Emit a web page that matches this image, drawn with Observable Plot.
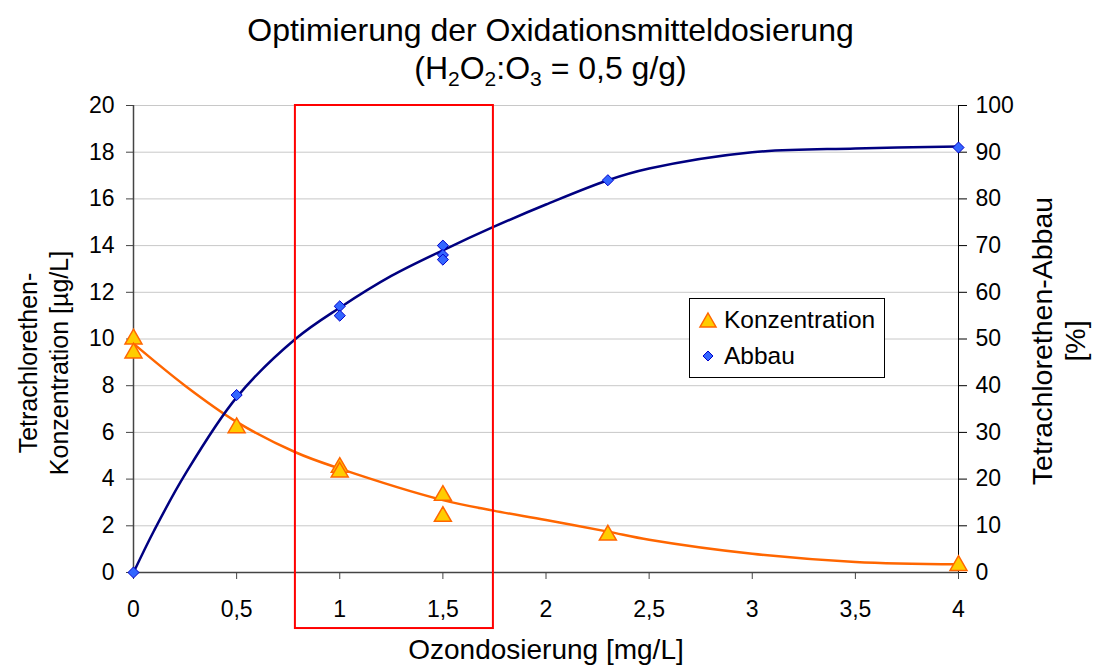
<!DOCTYPE html>
<html>
<head>
<meta charset="utf-8">
<script src="https://cdn.jsdelivr.net/npm/d3@7"></script>
<script src="https://cdn.jsdelivr.net/npm/@observablehq/plot@0.6"></script>
<style>
  html, body { margin: 0; padding: 0; background: #fff; }
  body { width: 1095px; height: 668px; position: relative; overflow: hidden; font-family: "Liberation Sans", Arial, sans-serif; color: #000; }
  .t { position: absolute; left: 0; width: 1101px; text-align: center; font-size: 32px; line-height: 36px; }
  #chart { position: absolute; left: 0; top: 90px; }
  .lab { position: absolute; font-size: 25px; white-space: nowrap; text-align: center; line-height: 31px; }
  #legend { position: absolute; left: 689px; top: 298px; width: 194px; height: 78px; border: 1px solid #000; background: #fff; font-size: 24.5px; }
  #legend .row { position: absolute; left: 8px; display: flex; align-items: center; }
  #legend svg { margin-right: 6px; }
</style>
</head>
<body>
<div class="t" style="top:12px;">Optimierung der Oxidationsmitteldosierung</div>
<div class="t" style="top:50px;">(H<sub style="font-size:21px;">2</sub>O<sub style="font-size:21px;">2</sub>:O<sub style="font-size:21px;">3</sub> = 0,5 g/g)</div>
<div id="chart"></div>
<div class="lab" style="left:44px; top:363px; transform: translate(-50%,-50%) rotate(-90deg);">Tetrachlorethen-<br>Konzentration [µg/L]</div>
<div class="lab" style="left:1059px; top:341px; font-size:28.5px; line-height:33px; transform: translate(-50%,-50%) rotate(-90deg);">Tetrachlorethen-Abbau<br>[%]</div>
<div class="lab" style="left:546px; top:650px; font-size:28px; line-height:30px; transform: translate(-50%,-50%);">Ozondosierung [mg/L]</div>
<div id="legend">
  <div class="row" style="top:7px;"><svg width="20" height="22"><polygon points="10,4 18,18 2,18" fill="#FFCC00" stroke="#FF6600" stroke-width="1.5"/></svg>Konzentration</div>
  <div class="row" style="top:43px;"><svg width="20" height="22"><polygon points="10,6 15,11 10,16 5,11" fill="#3366FF" stroke="#0000CC" stroke-width="1"/></svg>Abbau</div>
</div>
<script>
// Measured points
const concX = [0, 0, 0.5, 1, 1, 1.5, 1.5, 2.3, 4];
const concY = [10.0, 9.4, 6.2, 4.5, 4.3, 3.3, 2.4, 1.6, 0.3];
const abbauX = [0, 0.5, 1, 1, 1.5, 1.5, 1.5, 2.3, 4];
const abbauY = [0, 38, 57, 55, 70, 68, 67, 84, 91];
// Trend curves
const concTrendX = [0, 0.25, 0.5, 0.785, 1, 1.5, 1.745, 2, 2.3, 2.5, 3, 3.5, 4];
const concTrendY = [9.8, 8.0, 6.45, 5.15, 4.45, 3.1, 2.65, 2.25, 1.75, 1.4, 0.8, 0.45, 0.35];
const abbauTrendX = [0, 0.1, 0.25, 0.5, 0.785, 1, 1.25, 1.5, 1.745, 2, 2.3, 2.5, 3, 3.5, 4];
const abbauTrendY = [0, 9, 21, 37.5, 50, 56.7, 63.5, 69, 74, 78.8, 84, 86.5, 90, 90.8, 91.2];
// Axis ticks
const xTicks = [0, 0.5, 1, 1.5, 2, 2.5, 3, 3.5, 4];
const leftTicks = [0, 2, 4, 6, 8, 10, 12, 14, 16, 18, 20];
const rightFactor = 5; // 100 % <-> 20 µg/L
// Highlight box (x range, y range in left-axis units)
const boxX = [0.785, 1.745];
const boxY = [-2.4, 20];

const conc = concX.map((x, i) => ({x, y: concY[i]}));
const abbau = abbauX.map((x, i) => ({x, y: abbauY[i] / rightFactor}));
const concTrend = concTrendX.map((x, i) => ({x, y: concTrendY[i]}));
const abbauTrend = abbauTrendX.map((x, i) => ({x, y: abbauTrendY[i] / rightFactor}));

const fmt = d => String(d).replace(".", ",");

const chart = Plot.plot({
  width: 1095,
  height: 578,
  marginLeft: 133,
  marginRight: 137,
  marginTop: 15,
  marginBottom: 96,
  style: {fontFamily: "'Liberation Sans', Arial, sans-serif", fontSize: "23px", color: "#000", background: "#fff"},
  x: {domain: [0, 4]},
  y: {domain: [0, 20]},
  marks: [
    Plot.gridY(leftTicks, {stroke: "#c8c8c8", strokeOpacity: 1, strokeWidth: 1}),
    Plot.axisX(xTicks, {tickFormat: fmt, tickSize: 7, tickPadding: 21, label: null, stroke: "#444"}),
    Plot.axisY(leftTicks, {anchor: "left", tickSize: 7, tickPadding: 12, label: null, stroke: "#444"}),
    Plot.axisY(leftTicks, {anchor: "right", tickFormat: d => d * rightFactor, tickSize: 8, tickPadding: 9, label: null, stroke: "#000"}),
    Plot.ruleX([0], {stroke: "#444", strokeWidth: 1.5}),
    Plot.ruleX([4], {stroke: "#000", strokeWidth: 1}),
    Plot.ruleY([0], {stroke: "#444", strokeWidth: 1.5}),
    Plot.line(concTrend, {x: "x", y: "y", curve: "catmull-rom", stroke: "#FF6600", strokeWidth: 2.5}),
    Plot.line(abbauTrend, {x: "x", y: "y", curve: "catmull-rom", stroke: "#000080", strokeWidth: 2.5}),
    Plot.dot(conc, {x: "x", y: "y", symbol: "triangle", r: 6.3, fill: "#FFCC00", stroke: "#FF6600", strokeWidth: 1.5}),
    Plot.dot(abbau, {x: "x", y: "y", symbol: "diamond2", r: 5, fill: "#3366FF", stroke: "#0000CC", strokeWidth: 1}),
    Plot.rect([{x1: boxX[0], x2: boxX[1], y1: boxY[0], y2: boxY[1]}], {x1: "x1", x2: "x2", y1: "y1", y2: "y2", fill: "none", stroke: "#FF0000", strokeWidth: 2})
  ]
});
document.getElementById("chart").appendChild(chart);
</script>
</body>
</html>
